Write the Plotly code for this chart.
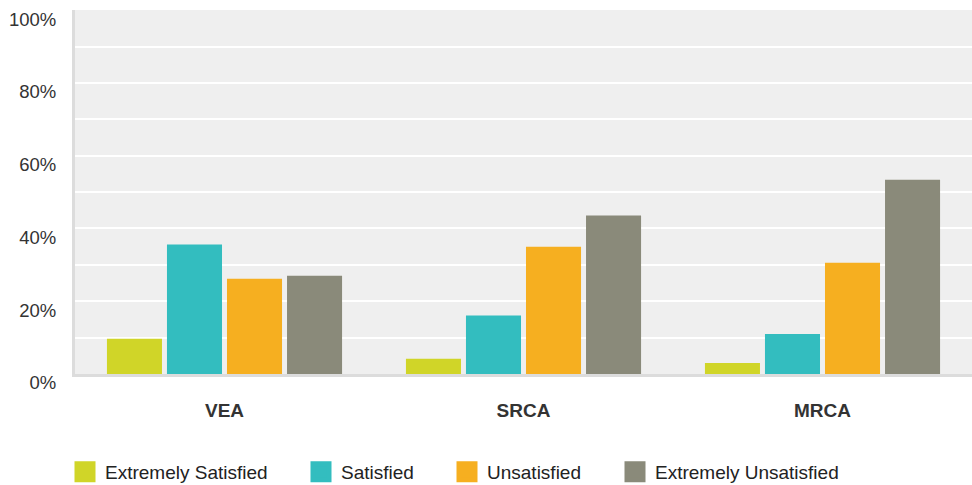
import plotly.graph_objects as go

categories = ["VEA", "SRCA", "MRCA"]
series_names = ["Extremely Satisfied", "Satisfied", "Unsatisfied", "Extremely Unsatisfied"]
extremely_satisfied = [9.7, 4.2, 3.0]
satisfied = [35.6, 16.1, 11.0]
unsatisfied = [26.2, 35.0, 30.6]
extremely_unsatisfied = [27.0, 43.6, 53.4]
colors = ["#d0d528", "#33bdbf", "#f6af20", "#8a8a7a"]
y_tick_vals = [0, 20, 40, 60, 80, 100]
y_tick_text = ["0%", "20%", "40%", "60%", "80%", "100%"]

FONT = "Arial, Liberation Sans, sans-serif"
W, H = 972, 485
legend_ids = ["legend", "legend2", "legend3", "legend4"]
legend_x_px = [65, 301, 447, 615]

fig = go.Figure()
series = [extremely_satisfied, satisfied, unsatisfied, extremely_unsatisfied]
for name, vals, col, lid in zip(series_names, series, colors, legend_ids):
    fig.add_trace(go.Bar(name=name, x=categories, y=vals, showlegend=False,
                         marker=dict(color=col, line=dict(width=0))))
    # legend entry with a larger square swatch
    fig.add_trace(go.Scatter(name=name, x=[None], y=[None], mode="markers",
                             marker=dict(symbol="square", size=16, color=col,
                                         line=dict(color=col, width=6)),
                             legend=lid, showlegend=True, hoverinfo="skip"))

layout_legends = {}
for lid, xp in zip(legend_ids, legend_x_px):
    layout_legends[lid] = dict(
        orientation="h",
        xref="container", yref="container",
        x=xp / W, y=(H - 472) / H,
        xanchor="left", yanchor="middle",
        font=dict(family=FONT, size=19, color="#222222"),
        bgcolor="rgba(0,0,0,0)",
        itemsizing="trace",
    )

fig.update_layout(
    width=W, height=H,
    margin=dict(l=75, r=0, t=10, b=111, autoexpand=False),
    paper_bgcolor="white",
    plot_bgcolor="#efefef",
    barmode="group",
    bargap=0.197,
    bargroupgap=0.083,
    font=dict(family=FONT, size=18, color="#333333"),
    showlegend=True,
    **layout_legends,
)

fig.update_xaxes(
    showline=True, linecolor="#dcdcdc", linewidth=3,
    showgrid=False, ticks="",
    tickfont=dict(family=FONT, size=19, color="#333333", weight="bold"),
    ticklabelstandoff=17,
)
fig.update_yaxes(
    range=[0, 100.05],
    tickvals=y_tick_vals, ticktext=y_tick_text,
    showline=True, linecolor="#dcdcdc", linewidth=3,
    showgrid=True, gridcolor="white", gridwidth=2,
    minor=dict(dtick=10, showgrid=True, gridcolor="white", gridwidth=2),
    zeroline=False,
    ticks="",
    tickfont=dict(family=FONT, size=18.5, color="#333333"),
    ticklabelstandoff=12,
    ticklabelshift=9,
    ticklabeloverflow="allow",
)

fig.write_html("out.html",
               config={"displayModeBar": False},
               post_script="document.body.style.margin='0';document.body.style.padding='0';")
